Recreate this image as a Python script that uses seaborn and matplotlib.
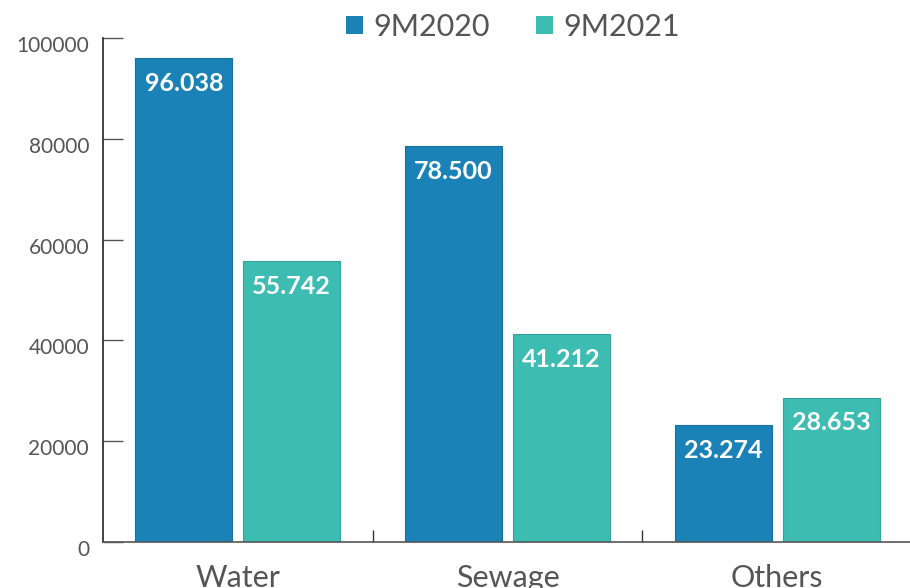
import pandas as pd
import matplotlib.pyplot as plt
import matplotlib.transforms as mtransforms
from matplotlib.patches import Patch
import seaborn as sns

# segment revenue, values
categories = ["Water", "Sewage", "Others"]
periods = ["9M2020", "9M2021"]
values_2020 = [96038, 78500, 23274]
values_2021 = [55742, 41212, 28653]
bar_labels_2020 = ["96.038", "78.500", "23.274"]
bar_labels_2021 = ["55.742", "41.212", "28.653"]
yticks = [0, 20000, 40000, 60000, 80000, 100000]

colors = ["#1b82b7", "#3dbcb2"]
edges = ["#17709e", "#35a39a"]
text_grey = "#555555"

df = pd.DataFrame({
    "segment": categories * 2,
    "period": [periods[0]] * 3 + [periods[1]] * 3,
    "value": values_2020 + values_2021,
})

sns.set_style("white")
plt.rcParams["font.family"] = ["Lato", "DejaVu Sans"]

fig = plt.figure(figsize=(9.1, 5.88), dpi=100)
ax = fig.add_axes([103 / 910, 46 / 588, 809 / 910, 504 / 588])

sns.barplot(data=df, x="segment", y="value", hue="period", order=categories,
            hue_order=periods, palette=colors, saturation=1, width=0.8, gap=0.1,
            legend=False, ax=ax)

# bar edges and labels inside the top of each bar
for container, ec, labels in zip(ax.containers, edges, [bar_labels_2020, bar_labels_2021]):
    for bar, lab in zip(container, labels):
        bar.set_edgecolor(ec)
        bar.set_linewidth(0.8)
        ax.annotate(lab, (bar.get_x() + bar.get_width() / 2, bar.get_height()),
                    xytext=(0, -10), textcoords="offset points", ha="center", va="top",
                    color="white", fontsize=18, fontweight="bold")

ax.set_xlim(-0.5, 2.5)
ax.set_ylim(0, 100000)
ax.set_yticks(yticks)
ax.set_xlabel("")
ax.set_ylabel("")

for s in ["top", "right"]:
    ax.spines[s].set_visible(False)
ax.spines["left"].set_color("#222222")
ax.spines["bottom"].set_color("#555555")
ax.spines["left"].set_linewidth(1.2)
ax.spines["bottom"].set_linewidth(1.2)

ax.tick_params(axis="y", left=True, direction="in", length=14.5, width=1, color="#555555",
               pad=10, labelsize=15, labelcolor=text_grey)
ax.tick_params(axis="x", which="major", bottom=True, length=0, pad=16, labelsize=22,
               labelcolor=text_grey)
ax.set_xticks([0.5, 1.5], minor=True)
ax.tick_params(axis="x", which="minor", bottom=True, direction="in", length=9, width=1,
               color="#333333")

# y labels sit a little below their ticks
offset = mtransforms.ScaledTranslation(0, -6 / 100, fig.dpi_scale_trans)
for lab in ax.get_yticklabels():
    lab.set_transform(lab.get_transform() + offset)

handles = [Patch(facecolor=c, edgecolor="none", label=p) for c, p in zip(colors, periods)]
fig.legend(handles=handles, loc="center", bbox_to_anchor=(513 / 910, 1 - 27 / 588),
           ncol=2, frameon=False, fontsize=22, labelcolor=text_grey,
           handlelength=0.55, handleheight=0.55, handletextpad=0.35, columnspacing=1.5)

fig.savefig("out.png", dpi=100)
